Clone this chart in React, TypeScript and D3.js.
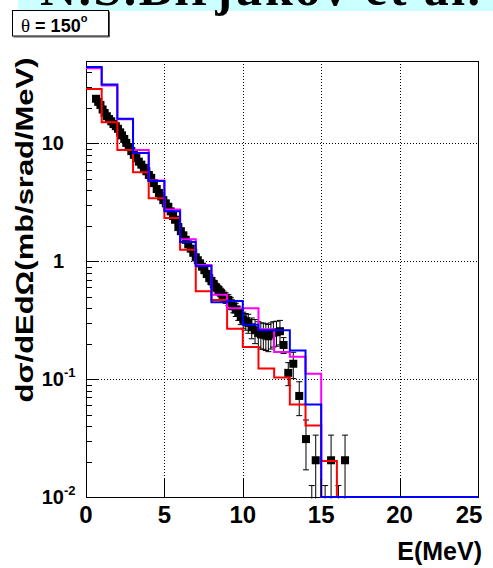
import React from "react";
import * as d3 from "d3";

// Energy bin edges (MeV) shared by the three model histograms
const BIN_EDGES = [0, 1, 2, 3, 4, 5, 6, 7, 8, 9, 10, 11, 12, 13, 14, 15, 16, 17, 18, 19, 20, 21, 22, 23, 24, 25];

// Model predictions, mb/srad/MeV per 1-MeV bin (0 = empty bin)
const HIST_RED = [28.9, 15.1, 8.8, 5.7, 3.42, 2.33, 1.25, 0.557, 0.47, 0.267, 0.187, 0.123, 0.103, 0.061, 0.0405, 0.0202, 0, 0, 0, 0, 0, 0, 0, 0, 0];
const HIST_MAGENTA = [43.5, 31.0, 16.0, 8.8, 4.85, 2.75, 1.54, 0.93, 0.52, 0.4, 0.4, 0.265, 0.17, 0.155, 0.111, 0, 0, 0, 0, 0, 0, 0, 0, 0, 0];
const HIST_BLUE = [44.4, 31.6, 16.2, 8.3, 4.8, 2.65, 1.46, 0.91, 0.45, 0.46, 0.29, 0.26, 0.26, 0.175, 0.061, 0, 0, 0, 0, 0, 0, 0, 0, 0, 0];

// Measured spectrum
const DATA_E = [
  0.64, 0.78, 0.92, 1.06, 1.19, 1.33, 1.47, 1.61, 1.75, 1.9, 2.04, 2.18, 2.3, 2.44, 2.57, 2.72, 2.89, 3.05, 3.21, 3.37,
  3.53, 3.69, 3.85, 4.01, 4.16, 4.33, 4.51, 4.65, 4.79, 4.93, 5.09, 5.25, 5.4, 5.55, 5.68, 5.89, 6.05, 6.21, 6.36, 6.52,
  6.68, 6.84, 7.0, 7.13, 7.27, 7.4, 7.55, 7.7, 7.86, 8.0, 8.15, 8.3, 8.45, 8.6, 8.75, 8.9, 9.08, 9.24, 9.39, 9.55,
  9.71, 9.87, 10.03, 10.19, 10.35, 10.57, 10.78, 10.99, 11.15, 11.31, 11.47, 11.63, 11.79, 11.95, 12.15, 12.37, 12.6, 12.9, 13.22, 13.6,
  14.03, 14.4, 14.65, 15.25, 15.63, 16.1, 16.52,
];
const DATA_XS = [
  23.9, 22.5, 21.2, 19.4, 18.1, 17.0, 16.1, 15.4, 14.6, 14.0, 13.3, 12.4, 11.7, 10.9, 10.1, 9.3, 8.6, 8.0, 7.5, 7.0,
  6.6, 6.2, 5.8, 5.4, 5.1, 4.6, 4.1, 3.8, 3.55, 3.3, 3.1, 2.9, 2.65, 2.42, 2.25, 1.95, 1.8, 1.66, 1.52, 1.39,
  1.28, 1.18, 1.08, 1.02, 0.96, 0.9, 0.84, 0.78, 0.72, 0.68, 0.64, 0.6, 0.57, 0.54, 0.51, 0.49, 0.47, 0.44, 0.415, 0.39,
  0.365, 0.34, 0.32, 0.31, 0.3, 0.275, 0.26, 0.247, 0.24, 0.239, 0.235, 0.231, 0.24, 0.247, 0.25, 0.255, 0.195, 0.113, 0.135, 0.072,
  0.031, 0.005, 0.0205, 0.005, 0.0205, 0.005, 0.0205,
];
const DATA_ERR = [
  0.8, 0.8, 0.7, 0.7, 0.6, 0.6, 0.5, 0.5, 0.5, 0.5, 0.5, 0.4, 0.4, 0.4, 0.4, 0.3, 0.3, 0.3, 0.3, 0.25,
  0.25, 0.2, 0.2, 0.2, 0.2, 0.2, 0.15, 0.15, 0.14, 0.13, 0.12, 0.12, 0.1, 0.1, 0.09, 0.08, 0.08, 0.07, 0.07, 0.06,
  0.06, 0.05, 0.05, 0.05, 0.05, 0.05, 0.05, 0.05, 0.05, 0.05, 0.05, 0.05, 0.05, 0.05, 0.05, 0.05, 0.05, 0.05, 0.05, 0.05,
  0.05, 0.05, 0.05, 0.05, 0.055, 0.055, 0.06, 0.06, 0.06, 0.06, 0.06, 0.06, 0.06, 0.06, 0.06, 0.06, 0.03, 0.025, 0.034, 0.023,
  0.014, 0.0075, 0.013, 0.0075, 0.013, 0.0075, 0.013,
];

const X_TICKS = [0, 5, 10, 15, 20, 25];
const X_GRID = [5, 10, 15, 20];
const Y_MAJOR = [0.01, 0.1, 1, 10];
const Y_GRID = [0.1, 1, 10];
const Y_LABEL_BASE = ["10", "10", "1", "10"];
const Y_LABEL_EXP = ["-2", "-1", "", ""];
const Y_MINOR_MANTISSA = [2, 3, 4, 5, 6, 7, 8, 9];

const TITLE = "N.S.Birjukov et al.";
const X_TITLE = "E(MeV)";
const Y_TITLE = "dσ/dEdΩ(mb/srad/MeV)";

const W = 493;
const H = 568;
const FRAME = { left: 86, right: 478, top: 61, bottom: 497 };
const Y_MIN = 0.01;
const Y_MAX = 50;
const MARKER = 8;
const SANS = "'Liberation Sans', Arial, Helvetica, sans-serif";
const SERIF = "'Liberation Serif', 'Times New Roman', serif";

export default function App() {
  const x = d3.scaleLinear().domain([0, 25]).range([FRAME.left, FRAME.right]);
  const y = d3.scaleLog().domain([Y_MIN, Y_MAX]).range([FRAME.bottom, FRAME.top]);

  const stepLine = d3.line<[number, number]>().curve(d3.curveStepAfter);
  const histPath = (vals: number[]) => {
    const pts: [number, number][] = vals.map((v, i) => [x(BIN_EDGES[i]), y(Math.max(v, Y_MIN))]);
    const last = vals[vals.length - 1];
    pts.push([x(BIN_EDGES[vals.length]), y(Math.max(last, Y_MIN))]);
    return stepLine(pts) || "";
  };

  const minorTicks: number[] = [];
  for (const dec of [0.01, 0.1, 1, 10]) {
    for (const m of Y_MINOR_MANTISSA) {
      const v = dec * m;
      if (v <= Y_MAX) minorTicks.push(v);
    }
  }

  const yOf = (v: number) => (v > 0 ? y(v) : FRAME.bottom + 100);

  return (
    <svg
      width={W}
      height={H}
      viewBox={`0 0 ${W} ${H}`}
      style={{ position: "absolute", left: 0, top: 0, background: "#fff" }}
    >
      <defs>
        <clipPath id="frameClip">
          <rect x={FRAME.left} y={FRAME.top} width={FRAME.right - FRAME.left} height={FRAME.bottom - FRAME.top + 1.5} />
        </clipPath>
      </defs>

      {/* caption band */}
      <rect x={18} y={-1} width={W - 18} height={12} fill="#ccffff" />
      <text x={40} y={4.5} fontFamily={SERIF} fontWeight="bold" fontSize={50} textLength={440} lengthAdjust="spacing" fill="#000">
        {TITLE}
      </text>

      {/* angle box */}
      <polyline points="13.5,37 109.5,37 109.5,11.5" fill="none" stroke="#555" strokeWidth={1} />
      <rect x={12.5} y={10.5} width={96} height={25.5} fill="#fff" stroke="#000" strokeWidth={1} />
      <text x={21} y={31.5} fill="#000">
        <tspan fontFamily={SERIF} fontSize={19}>θ</tspan>
        <tspan fontFamily={SANS} fontWeight="bold" fontSize={18}> = 150</tspan>
        <tspan fontFamily={SANS} fontWeight="bold" fontSize={11} dy={-10}>o</tspan>
      </text>

      {/* grid */}
      <g stroke="#000" strokeWidth={1} strokeDasharray="1 2">
        {X_GRID.map((t) => (
          <line key={`gx${t}`} x1={Math.round(x(t)) + 0.5} x2={Math.round(x(t)) + 0.5} y1={FRAME.top} y2={FRAME.bottom} />
        ))}
        {Y_GRID.map((t) => (
          <line key={`gy${t}`} x1={FRAME.left} x2={FRAME.right} y1={Math.round(y(t)) + 0.5} y2={Math.round(y(t)) + 0.5} />
        ))}
      </g>

      {/* frame */}
      <rect
        x={FRAME.left + 0.5}
        y={FRAME.top + 0.5}
        width={FRAME.right - FRAME.left}
        height={FRAME.bottom - FRAME.top}
        fill="none"
        stroke="#000"
        strokeWidth={1}
      />

      {/* measured points */}
      <g clipPath="url(#frameClip)">
        {DATA_E.map((e, i) => {
          const v = DATA_XS[i];
          const err = DATA_ERR[i];
          const cx = x(e);
          const yTop = yOf(v + err);
          const yBot = yOf(v - err);
          return (
            <g key={`d${i}`}>
              <line x1={cx} x2={cx} y1={yTop} y2={yBot} stroke="#000" strokeWidth={1} />
              <line x1={cx - 3} x2={cx + 3} y1={yTop} y2={yTop} stroke="#000" strokeWidth={1} />
              <line x1={cx - 3} x2={cx + 3} y1={yBot} y2={yBot} stroke="#000" strokeWidth={1} />
              <rect x={cx - MARKER / 2} y={yOf(v) - MARKER / 2} width={MARKER} height={MARKER} fill="#000" />
            </g>
          );
        })}
      </g>

      {/* model histograms */}
      <g clipPath="url(#frameClip)" fill="none" strokeWidth={2}>
        <path d={histPath(HIST_RED)} stroke="#ff0000" />
        <path d={histPath(HIST_MAGENTA)} stroke="#ff00ff" />
        <path d={histPath(HIST_BLUE)} stroke="#0000ff" />
      </g>

      {/* x axis ticks & labels */}
      <g stroke="#000" strokeWidth={1}>
        {X_TICKS.map((t) => (
          <line key={`xt${t}`} x1={Math.round(x(t)) + 0.5} x2={Math.round(x(t)) + 0.5} y1={FRAME.bottom} y2={FRAME.bottom - 18} />
        ))}
      </g>
      {X_TICKS.map((t) => {
        const cx = Math.min(x(t), 482 - 13);
        return (
          <text key={`xl${t}`} x={cx} y={523} textAnchor="middle" fontFamily={SANS} fontWeight="bold" fontSize={24} fill="#000">
            {t}
          </text>
        );
      })}
      <text x={482} y={560} textAnchor="end" fontFamily={SANS} fontWeight="bold" fontSize={25} fill="#000">
        {X_TITLE}
      </text>

      {/* y axis ticks & labels */}
      <g stroke="#000" strokeWidth={1}>
        {Y_MAJOR.map((t) => (
          <line key={`ym${t}`} x1={FRAME.left} x2={FRAME.left + 12} y1={Math.round(y(t)) + 0.5} y2={Math.round(y(t)) + 0.5} />
        ))}
        {minorTicks.map((t) => (
          <line key={`yn${t}`} x1={FRAME.left} x2={FRAME.left + 6} y1={Math.round(y(t)) + 0.5} y2={Math.round(y(t)) + 0.5} />
        ))}
      </g>
      {Y_MAJOR.map((t, i) => (
        <g key={`yl${t}`}>
          <text x={64} y={y(t) + 7} textAnchor="end" fontFamily={SANS} fontWeight="bold" fontSize={20} fill="#000">
            {Y_LABEL_BASE[i]}
          </text>
          {Y_LABEL_EXP[i] && (
            <text x={64} y={y(t) - 2} fontFamily={SANS} fontWeight="bold" fontSize={13} fill="#000">
              {Y_LABEL_EXP[i]}
            </text>
          )}
        </g>
      ))}
      <text
        transform="translate(33,230) rotate(-90)"
        textAnchor="middle"
        fontFamily={SANS}
        fontWeight="bold"
        fontSize={24}
        textLength={345}
        lengthAdjust="spacingAndGlyphs"
        fill="#000"
      >
        {Y_TITLE}
      </text>
    </svg>
  );
}
